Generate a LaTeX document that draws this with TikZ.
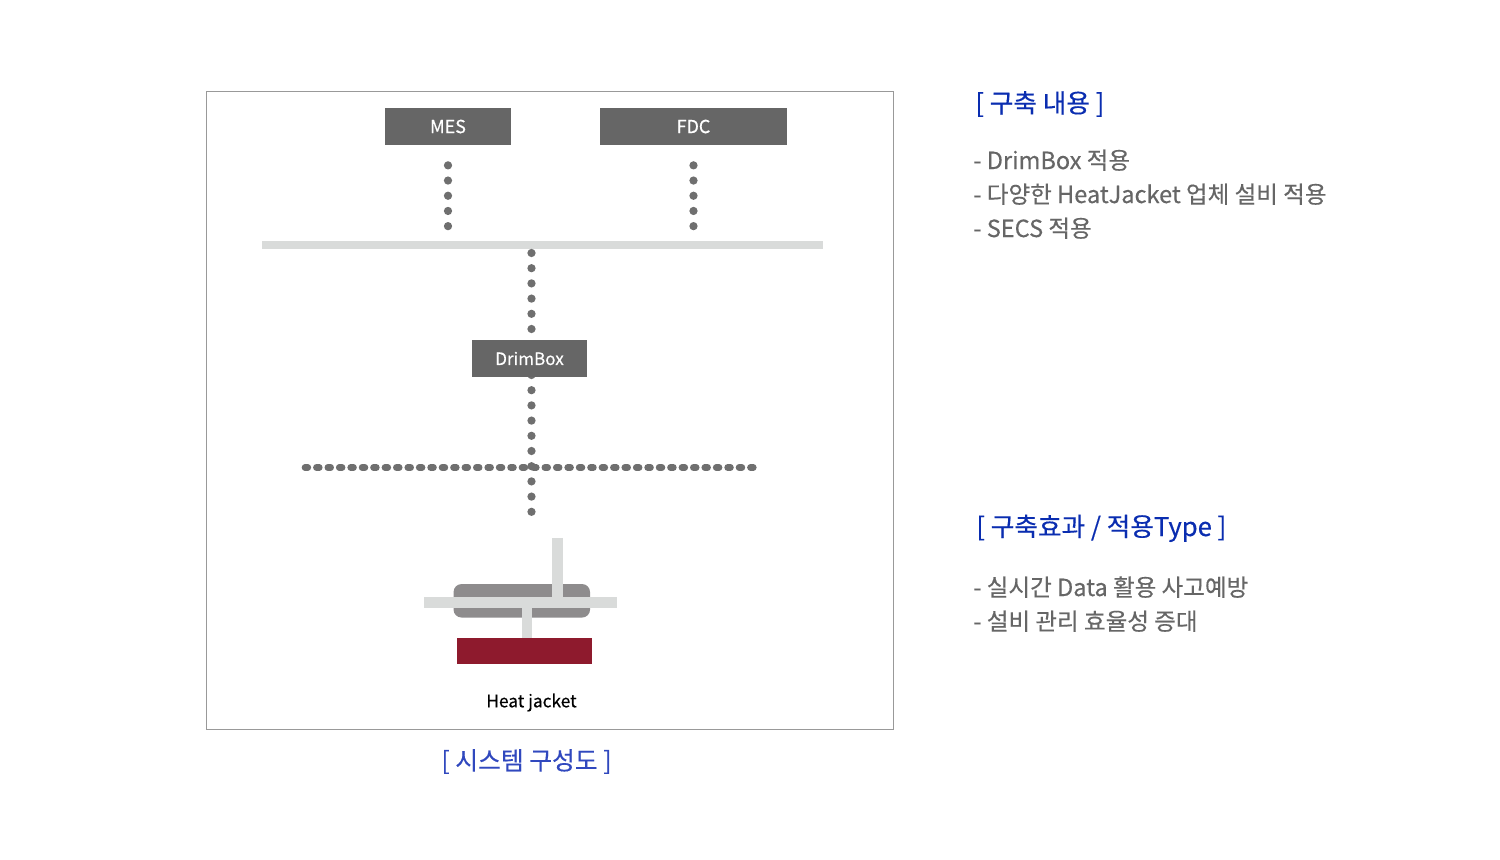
\documentclass[tikz,border=0pt]{standalone}
\usepackage{fontspec}
\setmainfont[RawFeature={embolden=0.35}]{Noto Sans CJK KR}
\usetikzlibrary{positioning}
\definecolor{boxgray}{HTML}{666666}
\definecolor{dotgray}{HTML}{6F6F6F}
\definecolor{busgray}{HTML}{D9DBDA}
\definecolor{framegray}{HTML}{999999}
\definecolor{bodygray}{HTML}{8E8C8D}
\definecolor{heatred}{HTML}{8E1A2D}
\definecolor{headblue}{HTML}{0A2DB0}
\definecolor{capblue}{HTML}{3048BE}
\tikzset{
  sysbox/.style={fill=boxgray,text=white,inner sep=0pt,minimum height=0.74cm,font=\fontsize{10.2}{12}\selectfont},
  flat/.style={inner sep=0pt,outer sep=0pt},
  dotline/.style={dotgray,line width=4.7pt,line cap=round,dash pattern=on 0pt off 8.65pt},
  fineline/.style={dotgray,line width=3.8pt,line cap=round,dash pattern=on 1.6pt off 4.9pt},
  pipeline/.style={busgray,line width=0.21cm},
  headtext/.style={anchor=base west,inner sep=0pt,text=headblue,font=\fontsize{14.6}{16}\selectfont},
  listtext/.style={anchor=base west,inner sep=0pt,text=boxgray,font=\fontsize{13.4}{15}\selectfont}
}
\begin{document}
\begin{tikzpicture}[scale=0.2]
\useasboundingbox (0,0) rectangle (150,-86);
\node [flat,draw=framegray,line width=0.6pt,minimum width=13.74cm,minimum height=12.76cm] (frame) at (55,-41.05) {};
% upper part
\node [flat,fill=busgray,minimum width=11.22cm,minimum height=0.16cm] (bus) at (54.25,-24.5) {};
\node [sysbox,minimum width=2.52cm] (mes) at (44.8,-12.65) {MES};
\node [sysbox,minimum width=3.74cm] (fdc) at (69.35,-12.65) {FDC};
\draw [dotline,shorten <=0.4cm,shorten >=0.27cm] (mes.south) -- (mes.south |- bus.north);
\draw [dotline,shorten <=0.4cm,shorten >=0.27cm] (fdc.south) -- (fdc.south |- bus.north);
\coordinate (bustap) at (53.15,-25.3);
\coordinate (drimtop) at (53.15,-33);
\draw [dotline] (bustap) -- (drimtop);
% middle part
\coordinate (drimtap) at (53.15,-37.5);
\coordinate (valvetop) at (53.15,-51.3);
\draw [dotline] (drimtap) -- (valvetop);
\node [sysbox,minimum width=2.3cm,font=\fontsize{9.7}{12}\selectfont] (drim) at (52.95,-35.85) {DrimBox};
\coordinate (fieldl) at (30.5,-46.75);
\coordinate (fieldr) at (76,-46.75);
\draw [fineline] (fieldl) -- (fieldr);
% heat jacket
\node [flat,fill=bodygray,rounded corners=0.16cm,minimum width=2.73cm,minimum height=0.67cm] (body) at (52.18,-60.08) {};
\node [flat,fill=busgray,minimum width=3.86cm,minimum height=0.21cm] (hpipe) at (52.05,-60.23) {};
\node [flat,fill=heatred,minimum width=2.69cm,minimum height=0.51cm] (heater) at (52.43,-65.08) {};
\coordinate (feed) at (55.73,-53.8);
\coordinate (stem) at (52.69,-60.2);
\draw [pipeline] (feed) -- (feed |- hpipe.north);
\draw [pipeline] (stem) -- (stem |- heater.north);
\node [flat,font=\fontsize{9.85}{12}\selectfont] (hjlabel) at (53.15,-70.25) {Heat jacket};
\node [flat,text=capblue,font=\fontsize{14.1}{16}\selectfont] (caption) at (52.65,-76.15) {[ 시스템 구성도 ]};
% right column
\node [headtext] (head1) at (97.5,-11.25) {[ 구축 내용 ]};
\node [listtext] (item1) at (97.3,-16.9) {- DrimBox 적용};
\node [listtext] (item2) at (97.3,-20.3) {- 다양한 HeatJacket 업체 설비 적용};
\node [listtext] (item3) at (97.3,-23.7) {- SECS 적용};
\node [headtext] (head2) at (97.6,-53.6) {[ 구축효과 / 적용Type ]};
\node [listtext] (item4) at (97.3,-59.6) {- 실시간 Data 활용 사고예방};
\node [listtext] (item5) at (97.3,-63) {- 설비 관리 효율성 증대};
\end{tikzpicture}
\end{document}
